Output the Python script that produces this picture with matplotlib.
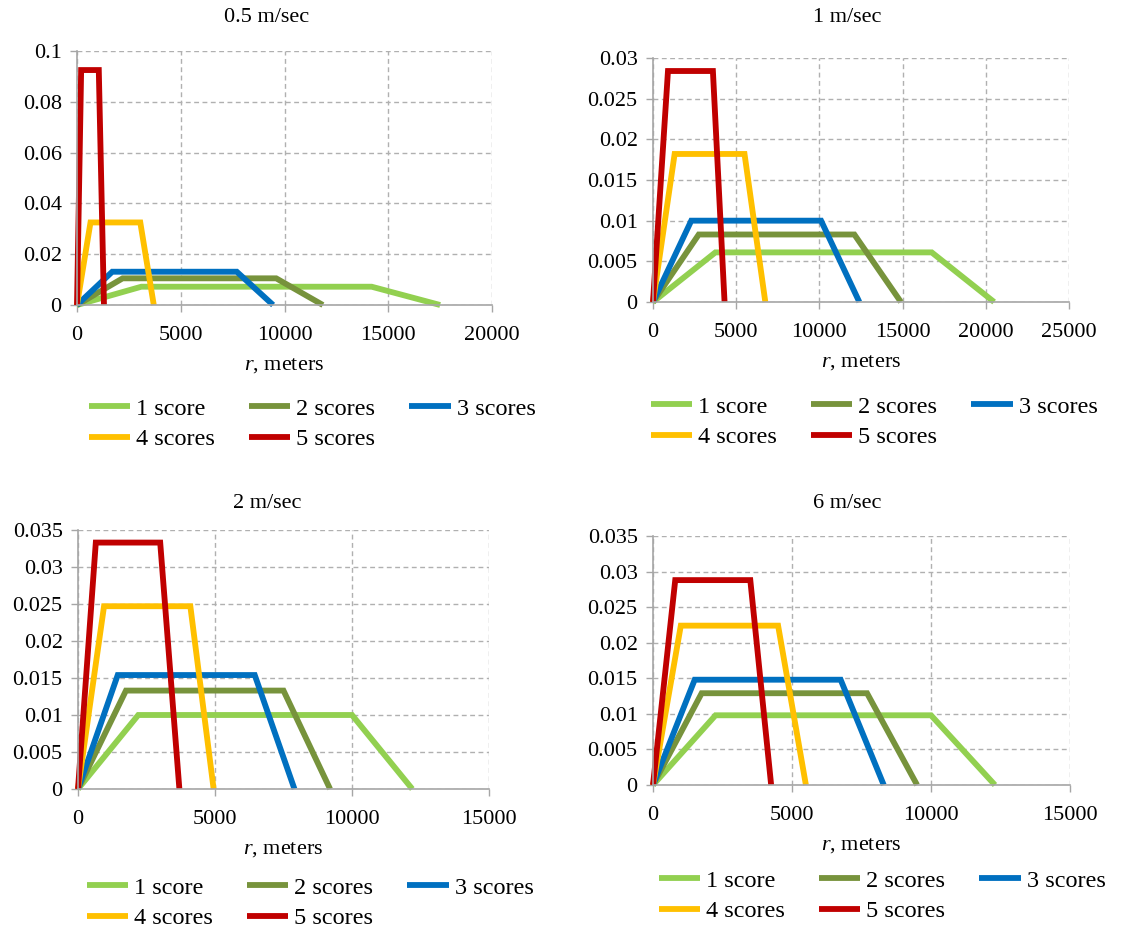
import numpy as np
import matplotlib
matplotlib.use('Agg')
import matplotlib.pyplot as plt
from matplotlib.ticker import FuncFormatter

plt.rcParams['font.family'] = ['Liberation Serif', 'DejaVu Serif']
plt.rcParams['mathtext.fontset'] = 'custom'
plt.rcParams['mathtext.rm'] = 'Liberation Serif'
plt.rcParams['mathtext.it'] = 'Liberation Serif:italic'

titles = ['0.5 m/sec', '1 m/sec', '2 m/sec', '6 m/sec']
scores = ['1 score', '2 scores', '3 scores', '4 scores', '5 scores']
colors = ['#92D050', '#77933C', '#0070C0', '#FFC000', '#C00000']

# breakpoints of each trapezoid (r, meters) and its plateau value, one row per score
r_05 = [[0, 3100, 14200, 17500],
        [0, 2200, 9600, 11850],
        [0, 1700, 7700, 9450],
        [0, 650, 3050, 3700],
        [0, 200, 1050, 1300]]
p_05 = [0.0072, 0.0105, 0.0131, 0.0325, 0.0925]

r_1 = [[0, 3750, 16750, 20500],
       [0, 2750, 12100, 14900],
       [0, 2300, 10100, 12400],
       [0, 1300, 5500, 6750],
       [0, 900, 3600, 4300]]
p_1 = [0.0061, 0.0083, 0.0100, 0.0182, 0.0284]

r_2 = [[0, 2200, 10000, 12200],
       [0, 1750, 7500, 9200],
       [0, 1450, 6450, 7900],
       [0, 950, 4100, 4950],
       [0, 650, 3000, 3700]]
p_2 = [0.0100, 0.0133, 0.0154, 0.0247, 0.0333]

r_6 = [[0, 2250, 10000, 12300],
       [0, 1750, 7700, 9500],
       [0, 1500, 6750, 8300],
       [0, 1000, 4500, 5500],
       [0, 800, 3500, 4250]]
p_6 = [0.0098, 0.0129, 0.0148, 0.0224, 0.0288]

all_r = [r_05, r_1, r_2, r_6]
all_p = [p_05, p_1, p_2, p_6]
xmax = [20000, 25000, 15000, 15000]
ymax = [0.1, 0.03, 0.035, 0.035]
ystep = [0.02, 0.005, 0.005, 0.005]

W, H = 1142, 932
# axes boxes in pixels: left, top, right, bottom
boxes = [(77, 51, 492, 305), (653, 58, 1069, 302),
         (78, 530, 489, 789), (653, 536, 1070, 785)]
title_pos = [(267, 17), (847, 17), (267, 503), (847, 503)]
legend_pos = [(312, 424), (874, 422), (310, 903), (882, 896)]

fig = plt.figure(figsize=(W / 100, H / 100), dpi=100)
grey = '#A6A6A6'

for k in range(4):
    l, t, r, b = boxes[k]
    ax = fig.add_axes([l / W, 1 - b / H, (r - l) / W, (b - t) / H])
    lines = []
    for i in range(5):
        p = all_p[k][i]
        ln, = ax.plot(all_r[k][i], [0, p, p, 0], color=colors[i], lw=4.2,
                      solid_joinstyle='miter', solid_capstyle='butt',
                      label=scores[i], clip_on=False)
        lines.append(ln)
    ax.set_xlim(0, xmax[k])
    ax.set_ylim(0, ymax[k])
    ax.set_xticks(np.arange(0, xmax[k] + 1, 5000))
    ax.set_yticks(np.arange(0, ymax[k] + ystep[k] / 2, ystep[k]))
    ax.yaxis.set_major_formatter(FuncFormatter(lambda v, pos: '%g' % round(v, 4)))
    ax.grid(True, color='#B0B0B0', ls=(0, (3.5, 2.5)), lw=1)
    ax.set_axisbelow(True)
    for s in ['top', 'right']:
        ax.spines[s].set_visible(False)
    for s in ['left', 'bottom']:
        ax.spines[s].set_color(grey)
        ax.spines[s].set_linewidth(1.2)
    ax.tick_params(colors=grey, labelcolor='black', labelsize=16, length=5,
                   width=1, direction='out')
    ax.tick_params(axis='x', pad=10)
    ax.tick_params(axis='y', pad=6)
    ax.set_xlabel('$r$, meters', fontsize=16, labelpad=8)
    fig.text(title_pos[k][0] / W, 1 - title_pos[k][1] / H, titles[k],
             fontsize=16, ha='center', va='center')
    # row-wise legend: 1,2,3 on top, 4,5 below
    order = [0, 3, 1, 4, 2]
    ax.legend([lines[j] for j in order], [scores[j] for j in order],
              loc='center', bbox_to_anchor=(legend_pos[k][0] / W, 1 - legend_pos[k][1] / H),
              bbox_transform=fig.transFigure, ncol=3, frameon=False, fontsize=17.5,
              handlelength=1.7, handletextpad=0.25, columnspacing=1.4,
              labelspacing=0.35, borderpad=0)

fig.savefig('out.png', dpi=100)
